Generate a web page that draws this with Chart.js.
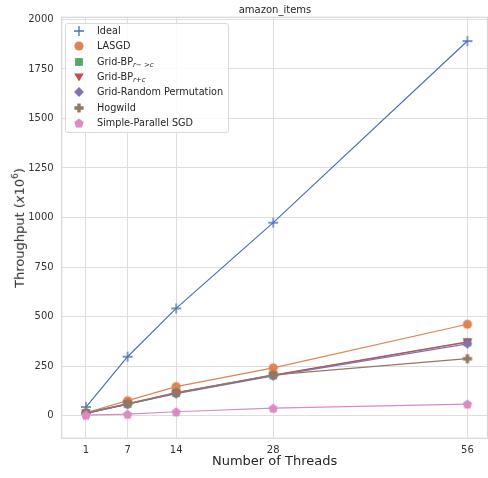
<!DOCTYPE html>
<html><head><meta charset="utf-8">
<script src="https://cdn.jsdelivr.net/npm/chart.js@4/dist/chart.umd.min.js"></script>
<style>
html,body{margin:0;padding:0;background:#fff;}
#wrap{position:relative;width:488px;height:478px;font-family:"DejaVu Sans",sans-serif;color:#262626;}
#c{position:absolute;left:0;top:0;}
#title{position:absolute;left:0;width:550px;top:4px;text-align:center;font-size:10px;line-height:12px;white-space:nowrap;}
#ytitle{position:absolute;left:18px;top:228px;transform:translate(-50%,-50%) rotate(-90deg);font-size:13px;white-space:nowrap;line-height:16px;}
#ytitle sup{font-size:9px;position:relative;top:-1px;}
#legend{position:absolute;left:65px;top:22.5px;width:162px;height:108px;border:1px solid #dadada;border-radius:3px;background:rgba(255,255,255,0.85);}
.row{position:absolute;left:0;height:14px;width:160px;}
.row canvas{position:absolute;left:6px;top:0;}
.row span{position:absolute;left:31px;top:0;font-size:9.7px;line-height:14px;white-space:nowrap;}
.row span .s{font-size:7px;font-style:italic;position:relative;top:2px;}
</style>
</head><body>
<div id="wrap">
<canvas id="c" width="488" height="478"></canvas>
<div id="title">amazon_items</div>
<div id="ytitle">Throughput (<i>x</i>10<sup>6</sup>)</div>
<div id="legend"></div>
</div>
<script>
// ---- data ----
const threads = [1, 7, 14, 28, 56];
const xTickLabels = ['1', '7', '14', '28', '56'];
const yTickValues = [0, 250, 500, 750, 1000, 1250, 1500, 1750, 2000];
const seriesNames = ['Ideal', 'LASGD', 'Grid-BP', 'Grid-BP', 'Grid-Random Permutation', 'Hogwild', 'Simple-Parallel SGD'];
const seriesSubs = ['', '', 'r\u2212 >c', 'r+c', '', '', ''];
const ideal = [43, 297, 541, 974, 1891];
const lasgd = [14, 75, 146, 241, 461];
const gridBPrToC = [12, 58, 113, 203, 370];
const gridBPrPlusC = [12, 58, 114, 204, 372];
const gridRandPerm = [10, 57, 110, 200, 362];
const hogwild = [14, 60, 116, 205, 287];
const simpleSGD = [2, 7, 19, 37, 58];

const seriesValues = [ideal, lasgd, gridBPrToC, gridBPrPlusC, gridRandPerm, hogwild, simpleSGD];
const colors = ['#4C72B0', '#DD8452', '#55A868', '#C44E52', '#8172B3', '#937860', '#DA8BC3'];
const markers = ['plus', 'circle', 'square', 'tridown', 'diamond', 'pplus', 'pentagon'];

function drawMarker(ctx, kind, cx, cy, color) {
  ctx.save();
  ctx.fillStyle = color; ctx.strokeStyle = color;
  ctx.beginPath();
  if (kind === 'plus') {
    ctx.lineWidth = 1.3;
    ctx.moveTo(cx - 5, cy); ctx.lineTo(cx + 5, cy);
    ctx.moveTo(cx, cy - 5); ctx.lineTo(cx, cy + 5);
    ctx.stroke();
  } else if (kind === 'circle') {
    ctx.arc(cx, cy, 4.6, 0, Math.PI * 2); ctx.fill();
  } else if (kind === 'square') {
    ctx.rect(cx - 3.9, cy - 3.9, 7.8, 7.8); ctx.fill();
  } else if (kind === 'tridown') {
    ctx.moveTo(cx - 4.8, cy - 3.6); ctx.lineTo(cx + 4.8, cy - 3.6); ctx.lineTo(cx, cy + 4.6); ctx.closePath(); ctx.fill();
  } else if (kind === 'diamond') {
    ctx.moveTo(cx, cy - 4.9); ctx.lineTo(cx + 4.9, cy); ctx.lineTo(cx, cy + 4.9); ctx.lineTo(cx - 4.9, cy); ctx.closePath(); ctx.fill();
  } else if (kind === 'pplus') {
    const a = 4.6, t = 1.7;
    ctx.moveTo(cx - t, cy - a); ctx.lineTo(cx + t, cy - a); ctx.lineTo(cx + t, cy - t); ctx.lineTo(cx + a, cy - t);
    ctx.lineTo(cx + a, cy + t); ctx.lineTo(cx + t, cy + t); ctx.lineTo(cx + t, cy + a); ctx.lineTo(cx - t, cy + a);
    ctx.lineTo(cx - t, cy + t); ctx.lineTo(cx - a, cy + t); ctx.lineTo(cx - a, cy - t); ctx.lineTo(cx - t, cy - t);
    ctx.closePath(); ctx.fill();
  } else if (kind === 'pentagon') {
    const r = 4.9;
    for (let i = 0; i < 5; i++) {
      const ang = -Math.PI / 2 + i * 2 * Math.PI / 5;
      const px = cx + r * Math.cos(ang), py = cy + r * Math.sin(ang) + 0.5;
      if (i === 0) ctx.moveTo(px, py); else ctx.lineTo(px, py);
    }
    ctx.closePath(); ctx.fill();
  }
  ctx.restore();
}
function markerImage(kind, color) {
  const c = document.createElement('canvas');
  c.width = 14; c.height = 14;
  drawMarker(c.getContext('2d'), kind, 7, 7, color);
  return c;
}

const datasets = seriesValues.map((vals, i) => ({
  label: seriesNames[i] + (seriesSubs[i] ? ' ' + seriesSubs[i] : ''),
  data: threads.map((t, j) => ({x: t, y: vals[j]})),
  borderColor: colors[i],
  backgroundColor: colors[i],
  borderWidth: 1.2,
  pointStyle: markerImage(markers[i], colors[i]),
  pointRadius: 5,
  pointHoverRadius: 5,
  order: seriesValues.length - i,
  fill: false,
  tension: 0
}));

const framePlugin = {
  id: 'frame',
  beforeDatasetsDraw(chart) {
    const {ctx, chartArea: a} = chart;
    ctx.save();
    ctx.strokeStyle = '#d6d6d6'; ctx.lineWidth = 1.2;
    ctx.strokeRect(a.left, a.top, a.right - a.left, a.bottom - a.top);
    ctx.restore();
  }
};

new Chart(document.getElementById('c'), {
  type: 'line',
  data: {datasets},
  plugins: [framePlugin],
  options: {
    responsive: false,
    animation: false,
    events: [],
    layout: {autoPadding: false, padding: {top: 17.3, right: 0.5, bottom: 0, left: 0}},
    plugins: {legend: {display: false}, title: {display: false}, tooltip: {enabled: false}},
    scales: {
      x: {
        type: 'linear', min: -2.5, max: 58.9,
        afterBuildTicks: s => { s.ticks = threads.map(v => ({value: v})); },
        afterFit: s => { s.height = 39.7; s.paddingLeft = 0; s.paddingRight = 0; },
        ticks: {
          callback: v => { const k = threads.indexOf(v); return k >= 0 ? xTickLabels[k] : ''; },
          font: {family: 'DejaVu Sans', size: 10}, color: '#333', padding: 6, autoSkip: false, maxRotation: 0
        },
        grid: {color: '#dedede', lineWidth: 1, drawTicks: false},
        border: {display: false},
        title: {display: true, text: 'Number of Threads', font: {family: 'DejaVu Sans', size: 13}, color: '#262626', padding: {top: 0, bottom: 8.2}}
      },
      y: {
        type: 'linear', min: -115, max: 2011,
        afterBuildTicks: s => { s.ticks = yTickValues.map(v => ({value: v})); },
        afterFit: s => { s.width = 61.7; s.paddingTop = 0; s.paddingBottom = 0; },
        ticks: {callback: v => String(v), font: {family: 'DejaVu Sans', size: 10}, color: '#333', padding: 8},
        grid: {color: '#dedede', lineWidth: 1, drawTicks: false},
        border: {display: false}
      }
    }
  }
});

// ---- HTML legend ----
const legend = document.getElementById('legend');
seriesNames.forEach((name, i) => {
  const row = document.createElement('div');
  row.className = 'row';
  row.style.top = (0.5 + i * 15.33) + 'px';
  const mc = document.createElement('canvas');
  mc.width = 14; mc.height = 14;
  drawMarker(mc.getContext('2d'), markers[i], 7, 7, colors[i]);
  row.appendChild(mc);
  const sp = document.createElement('span');
  sp.textContent = name;
  if (seriesSubs[i]) {
    const sub = document.createElement('span');
    sub.className = 's';
    sub.style.position = 'relative'; sub.style.left = '0'; sub.style.top = '2px';
    sub.textContent = seriesSubs[i];
    sp.appendChild(sub);
  }
  row.appendChild(sp);
  legend.appendChild(row);
});
</script>
</body></html>
